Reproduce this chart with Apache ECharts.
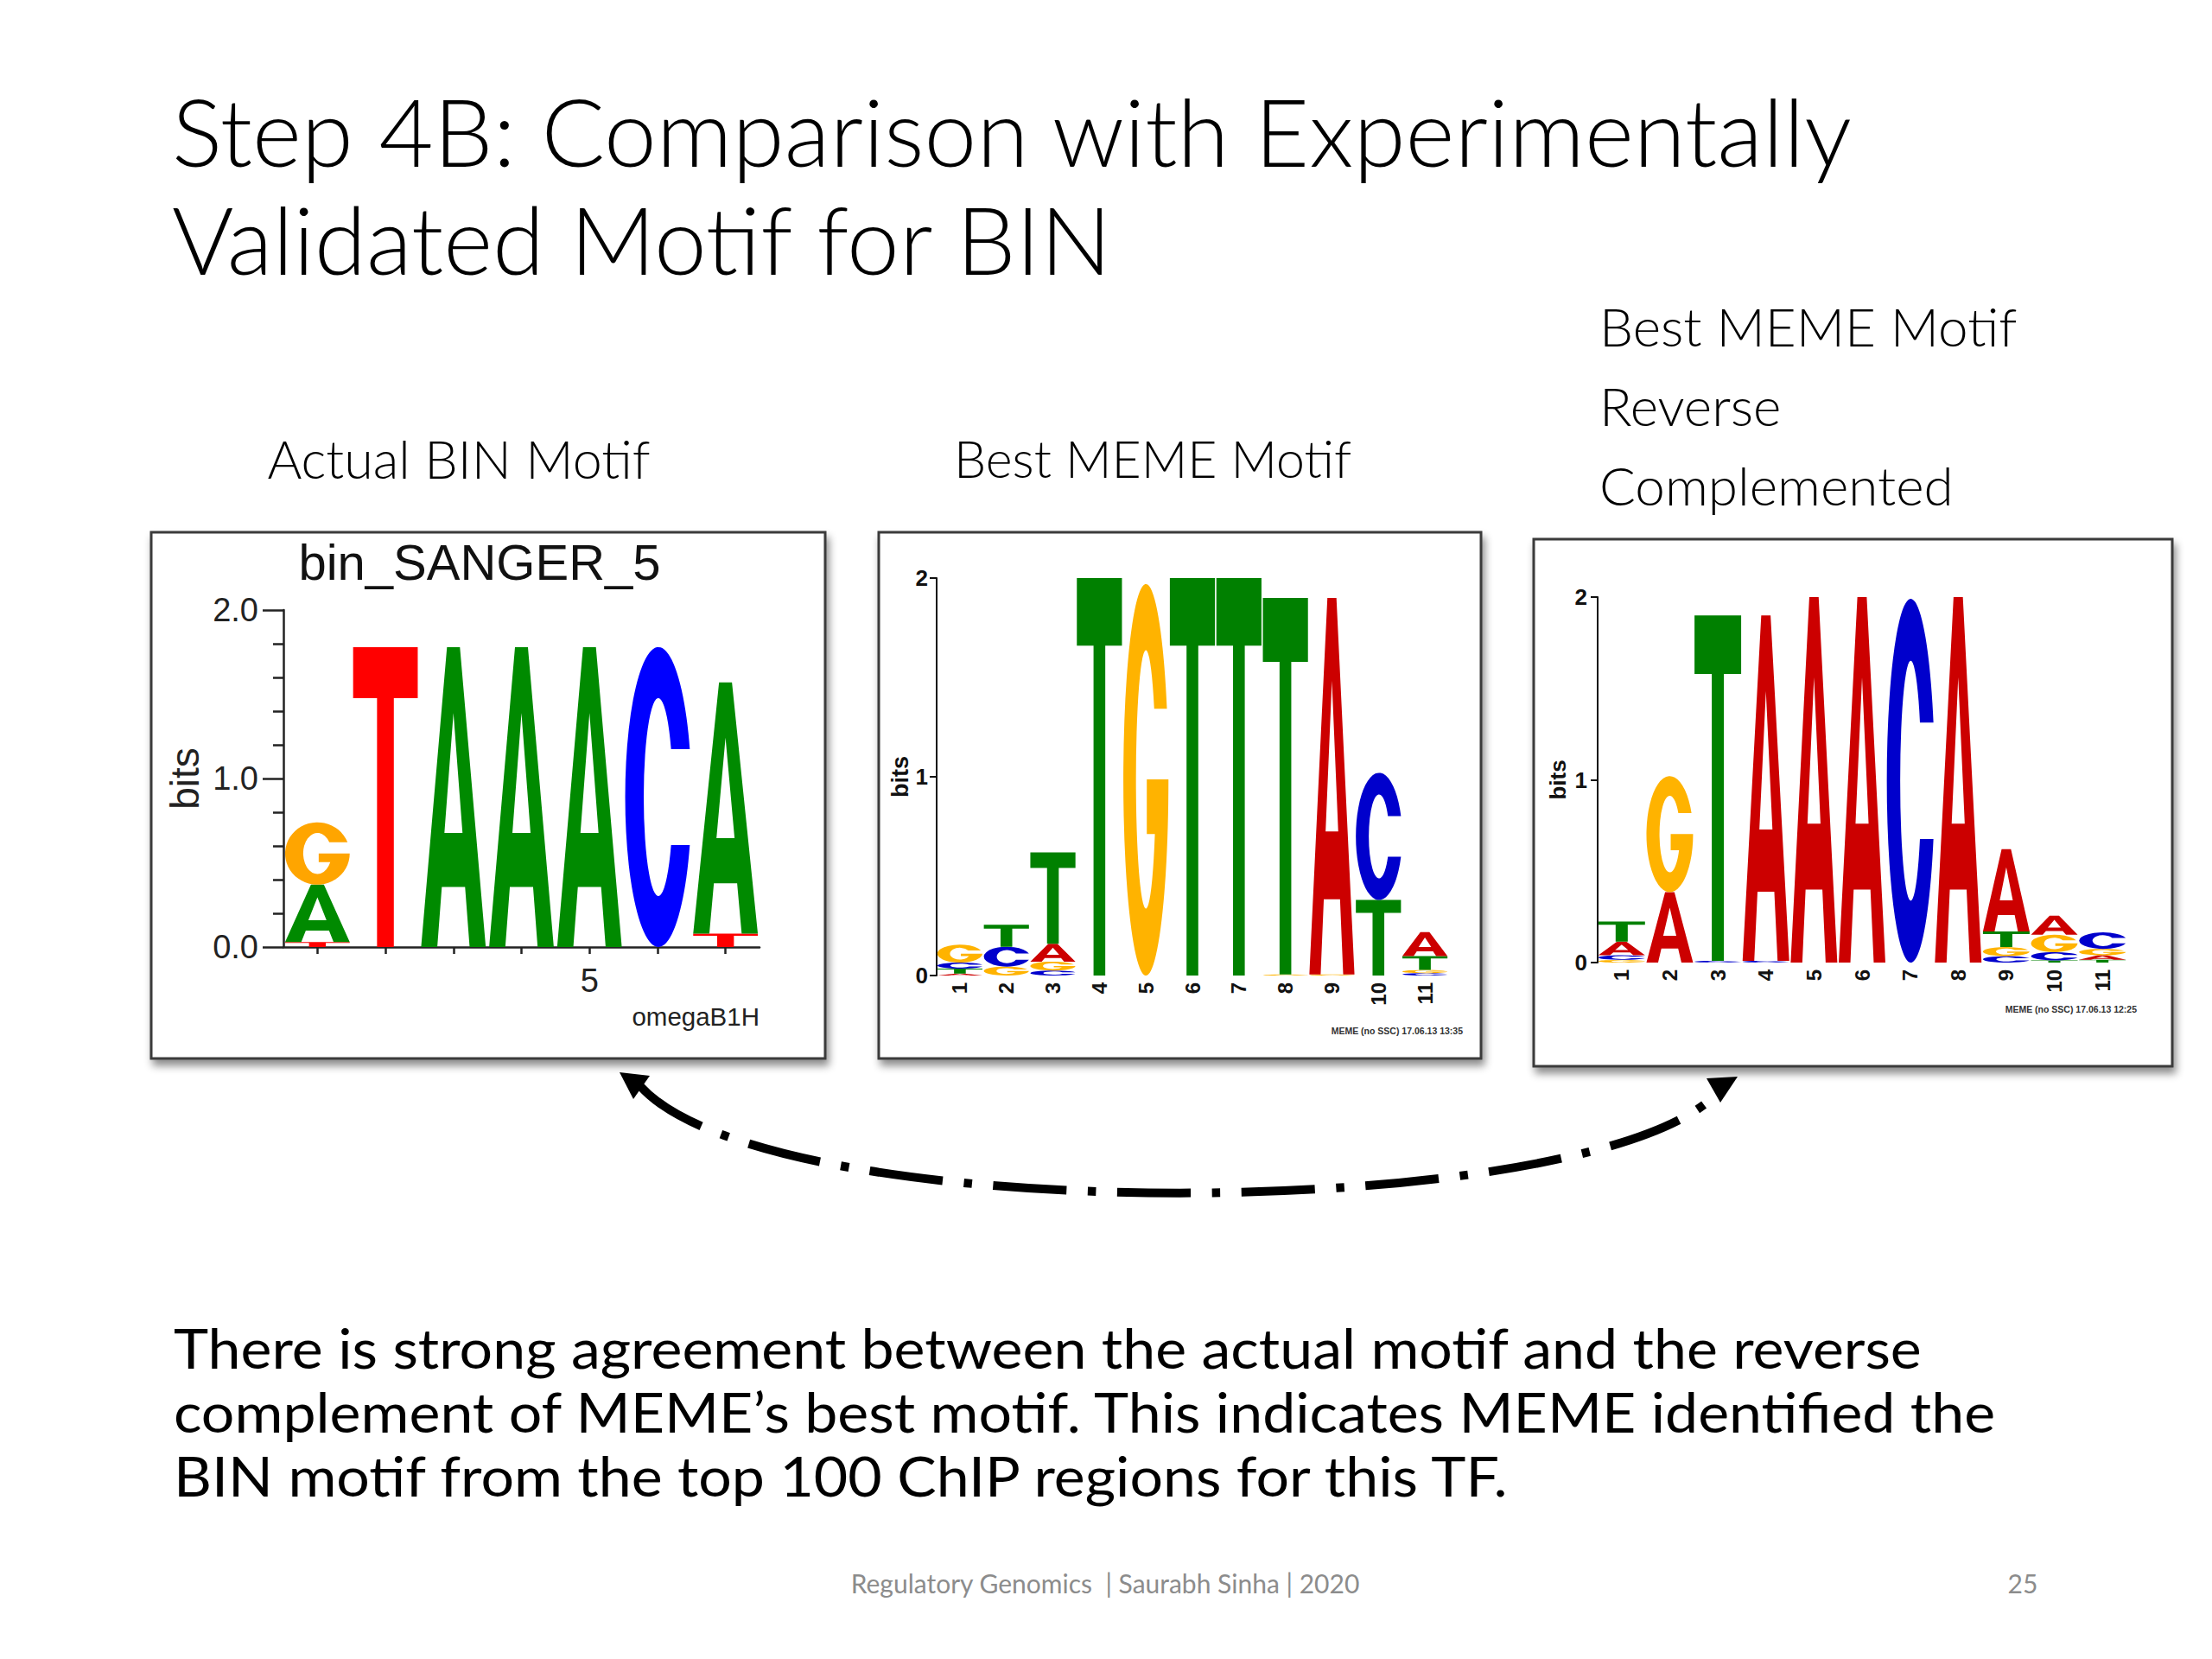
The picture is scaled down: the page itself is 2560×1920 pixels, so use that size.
<!DOCTYPE html>
<html><head><meta charset="utf-8">
<script src="https://cdn.jsdelivr.net/npm/echarts@6/dist/echarts.min.js"></script>
<style>html,body{margin:0;padding:0;background:#fff}#main{width:2560px;height:1920px}</style>
</head><body><div id="main"></div>
<script>
// ---- Logo 1: bin_SANGER_5 (bits per letter at each position) ----
const binPositions = ['1', '2', '3', '4', '5', '6', '7'];
const binA = [0.34, 0, 1.78, 1.78, 1.78, 0, 1.49];
const binC = [0, 0, 0, 0, 0, 1.78, 0];
const binG = [0.37, 0, 0, 0, 0, 0, 0];
const binT = [0.03, 1.78, 0, 0, 0, 0, 0.08];

// ---- Logo 2: Best MEME motif ----
const memePositions = ['1', '2', '3', '4', '5', '6', '7', '8', '9', '10', '11'];
const memeA = [0.01, 0, 0.09, 0, 0, 0, 0, 0, 1.895, 0, 0.12];
const memeC = [0.03, 0.10, 0.025, 0, 0, 0, 0, 0, 0, 0.64, 0.012];
const memeG = [0.09, 0.045, 0.045, 0, 1.97, 0, 0, 0.005, 0.005, 0, 0.016];
const memeT = [0.025, 0.11, 0.46, 2.0, 0, 2.0, 2.0, 1.895, 0, 0.38, 0.07];

// ---- Logo 3: Best MEME motif, reverse complemented ----
const rcPositions = ['1', '2', '3', '4', '5', '6', '7', '8', '9', '10', '11'];
const rcA = [0.075, 0.385, 0, 1.89, 2.0, 2.0, 0, 2.0, 0.45, 0.105, 0.025];
const rcC = [0.025, 0, 0.01, 0.01, 0, 0, 1.99, 0, 0.035, 0.045, 0.09];
const rcG = [0.015, 0.635, 0, 0, 0, 0, 0, 0, 0.05, 0.095, 0.035];
const rcT = [0.11, 0, 1.89, 0, 0, 0, 0, 0, 0.085, 0.012, 0.015];

// ---- Tick labels ----
const binYTicks = [0, 1, 2];
const memeYTicks = [0, 1, 2];

// Letter glyph outlines (unit box 100x100), stretched into each letter's box
const GLYPHS = {
  A: 'M0,100 L40,0 L60,0 L100,100 L75,100 L68,80 L32,80 L25,100 Z M36,62 L64,62 L50,22 Z',
  C: 'M97.4,34 A50,50 0 1 0 97.4,66 L69.2,66 A22,33 0 1 1 69.2,34 Z',
  G: 'M96.6,32 A50,50 0 1 0 100,50 L52,50 L52,64 L69.9,64 A22,33 0 1 1 68.4,32 Z',
  T: 'M0,0 L100,0 L100,17 L63,17 L63,100 L37,100 L37,17 L0,17 Z'
};
const binColors = { A: '#008a00', C: '#0000ff', G: '#ffa500', T: '#ff0000' };
const memeColors = { A: '#cc0000', C: '#0000cc', G: '#ffb300', T: '#008000' };

function logoSeries(idx, A, C, G, T, colors, frac) {
  const data = A.map((_, i) => [i, A[i], C[i], G[i], T[i]]);
  return {
    type: 'custom', xAxisIndex: idx, yAxisIndex: idx, z: 6,
    encode: { x: 0, y: [1, 2, 3, 4] },
    data: data,
    renderItem: function (params, api) {
      const i = api.value(0);
      const letters = ['A', 'C', 'G', 'T']
        .map((L, k) => [L, api.value(k + 1)])
        .filter(d => d[1] > 0)
        .sort((a, b) => a[1] - b[1]);
      const bw = api.size([1, 0])[0] * frac;
      const cx = api.coord([i, 0])[0];
      let base = 0;
      const children = [];
      letters.forEach(([L, h]) => {
        const yTop = api.coord([i, base + h])[1];
        const yBot = api.coord([i, base])[1];
        children.push({
          type: 'path',
          shape: { pathData: GLYPHS[L], x: cx - bw / 2, y: yTop, width: bw, height: Math.max(yBot - yTop, 0.8), layout: 'cover' },
          style: { fill: colors[L] }
        });
        base += h;
      });
      return { type: 'group', children: children };
    }
  };
}

const chart = echarts.init(document.getElementById('main'), null, { renderer: 'svg', width: 2560, height: 1920 });

const helv = 'Liberation Sans, Arial, Helvetica, sans-serif';
const slideFont = 'Lato, Open Sans, sans-serif';

function txt(text, x, y, size, opts) {
  opts = opts || {};
  const style = {
    text: text, fontFamily: opts.family || slideFont, fontSize: size,
    fontWeight: opts.weight || 400, fill: opts.color || '#000',
    align: opts.align || 'left', textAlign: opts.align || 'left',
    verticalAlign: 'middle', textVerticalAlign: 'middle'
  };
  return { type: 'text', z: 20, x: x, y: y, scaleX: opts.scaleX || 1, rotation: opts.rotation || 0, style: style };
}

function box(x, y, w, h) {
  return {
    type: 'rect', z: 1, shape: { x: x, y: y, width: w, height: h },
    style: { fill: '#fff', stroke: '#3a3a3a', lineWidth: 3, shadowBlur: 10, shadowOffsetX: 3, shadowOffsetY: 7, shadowColor: 'rgba(0,0,0,0.45)' }
  };
}

// dashed connector: dash-dot pattern fitted so the curve holds a whole number of periods
const arc = { x1: 741, y1: 1257, cpx1: 895, cpy1: 1427, cpx2: 1860, cpy2: 1415, x2: 1990, y2: 1262 };
function bezLen(s) {
  let L = 0, px = s.x1, py = s.y1;
  for (let k = 1; k <= 400; k++) {
    const t = k / 400, u = 1 - t;
    const x = u * u * u * s.x1 + 3 * u * u * t * s.cpx1 + 3 * u * t * t * s.cpx2 + t * t * t * s.x2;
    const y = u * u * u * s.y1 + 3 * u * u * t * s.cpy1 + 3 * u * t * t * s.cpy2 + t * t * t * s.y2;
    L += Math.hypot(x - px, y - py); px = x; py = y;
  }
  return L;
}
const basePattern = [90, 26, 10, 26];
const period = basePattern.reduce((a, b) => a + b, 0);
const arcLen = bezLen(arc);
const fitScale = arcLen / (Math.round(arcLen / period) * period);
const dashPattern = basePattern.map(v => v * fitScale);

const bodyLines = [
  'There is strong agreement between the actual motif and the reverse',
  'complement of MEME\u2019s best motif. This indicates MEME identified the',
  'BIN motif from the top 100 ChIP regions for this TF.'
];
const bodyY = [1559, 1633, 1707];

const option = {
  animation: false,
  backgroundColor: '#ffffff',
  grid: [
    { left: 328, top: 706, width: 551, height: 390 },
    { left: 1084, top: 669, width: 592, height: 460 },
    { left: 1849, top: 691, width: 612, height: 423 }
  ],
  xAxis: [
    {
      gridIndex: 0, type: 'category', data: binPositions, boundaryGap: true, z: 5,
      axisLine: { show: true, lineStyle: { color: '#222', width: 2.5 } },
      axisTick: { show: true, alignWithLabel: true, interval: 0, length: 8, lineStyle: { color: '#222', width: 2.5 } },
      axisLabel: { interval: (i, v) => v === '5', margin: 20, fontSize: 38, color: '#222', fontFamily: helv }
    },
    {
      gridIndex: 1, type: 'category', data: memePositions, boundaryGap: true, z: 5,
      axisLine: { show: false }, axisTick: { show: false },
      axisLabel: { interval: 0, rotate: 90, margin: 8, fontSize: 24, fontWeight: 'bold', color: '#111', fontFamily: helv }
    },
    {
      gridIndex: 2, type: 'category', data: rcPositions, boundaryGap: true, z: 5,
      axisLine: { show: false }, axisTick: { show: false },
      axisLabel: { interval: 0, rotate: 90, margin: 8, fontSize: 24, fontWeight: 'bold', color: '#111', fontFamily: helv }
    }
  ],
  yAxis: [
    {
      gridIndex: 0, type: 'value', min: binYTicks[0], max: binYTicks[2], interval: 1, z: 5,
      name: 'bits', nameLocation: 'middle', nameRotate: 90, nameGap: 91,
      nameTextStyle: { fontSize: 46, color: '#222', fontFamily: helv },
      axisLine: { show: true, lineStyle: { color: '#222', width: 2.5 } },
      axisTick: { show: true, length: 24, lineStyle: { color: '#222', width: 2.5 } },
      minorTick: { show: true, splitNumber: 5, length: 12, lineStyle: { color: '#222', width: 2.5 } },
      splitLine: { show: false }, minorSplitLine: { show: false },
      axisLabel: { formatter: v => v.toFixed(1), margin: 29, fontSize: 38, color: '#222', fontFamily: helv }
    },
    {
      gridIndex: 1, type: 'value', min: memeYTicks[0], max: memeYTicks[2], interval: 1, z: 5,
      name: 'bits', nameLocation: 'middle', nameRotate: 90, nameGap: 28,
      nameTextStyle: { fontSize: 27, fontWeight: 'bold', color: '#111', fontFamily: helv },
      axisLine: { show: true, lineStyle: { color: '#111', width: 2 } },
      axisTick: { show: true, length: 8, lineStyle: { color: '#111', width: 2 } },
      splitLine: { show: false },
      axisLabel: { margin: 10, fontSize: 26, fontWeight: 'bold', color: '#111', fontFamily: helv }
    },
    {
      gridIndex: 2, type: 'value', min: memeYTicks[0], max: memeYTicks[2], interval: 1, z: 5,
      name: 'bits', nameLocation: 'middle', nameRotate: 90, nameGap: 33,
      nameTextStyle: { fontSize: 26, fontWeight: 'bold', color: '#111', fontFamily: helv },
      axisLine: { show: true, lineStyle: { color: '#111', width: 2 } },
      axisTick: { show: true, length: 8, lineStyle: { color: '#111', width: 2 } },
      splitLine: { show: false },
      axisLabel: { margin: 12, fontSize: 26, fontWeight: 'bold', color: '#111', fontFamily: helv }
    }
  ],
  series: [
    logoSeries(0, binA, binC, binG, binT, binColors, 0.95),
    logoSeries(1, memeA, memeC, memeG, memeT, memeColors, 0.97),
    logoSeries(2, rcA, rcC, rcG, rcT, memeColors, 0.97)
  ],
  graphic: [
    box(175, 616, 780, 609),
    box(1017, 616, 697, 609),
    box(1775, 624, 739, 610),
    txt('Step 4B: Comparison with Experimentally', 199, 150, 109, { weight: 300 }),
    txt('Validated Motif for BIN', 199, 275, 109, { weight: 300 }),
    txt('Actual BIN Motif', 531, 530, 61, { weight: 300, align: 'center' }),
    txt('Best MEME Motif', 1334, 530, 59, { weight: 300, align: 'center' }),
    txt('Best MEME Motif', 1851, 377, 62, { weight: 300 }),
    txt('Reverse', 1851, 469, 62, { weight: 300 }),
    txt('Complemented', 1851, 561, 62, { weight: 300 }),
    txt('bin_SANGER_5', 555, 650, 58, { family: helv, align: 'center', color: '#111' }),
    txt('omegaB1H', 879, 1176, 29.5, { family: helv, align: 'right', color: '#222' }),
    txt('MEME (no SSC) 17.06.13 13:35', 1693, 1193, 10.5, { family: helv, align: 'right', weight: 'bold', color: '#333' }),
    txt('MEME (no SSC) 17.06.13 12:25', 2473, 1168, 10.5, { family: helv, align: 'right', weight: 'bold', color: '#333' }),
    txt(bodyLines[0], 201, bodyY[0], 64.5, { scaleX: 1.055 }),
    txt(bodyLines[1], 201, bodyY[1], 64.5, { scaleX: 1.055 }),
    txt(bodyLines[2], 201, bodyY[2], 64.5, { scaleX: 1.055 }),
    txt('Regulatory Genomics  | Saurabh Sinha | 2020', 1279, 1832, 30, { align: 'center', color: '#8c8c8c' }),
    txt('25', 2341, 1832, 30, { align: 'center', color: '#8c8c8c' }),
    {
      type: 'bezierCurve', z: 20,
      shape: arc,
      style: { fill: 'none', stroke: '#000', lineWidth: 10, lineDash: dashPattern }
    },
    { type: 'polygon', z: 21, shape: { points: [[717, 1241], [752, 1245], [733, 1272]] }, style: { fill: '#000' } },
    { type: 'polygon', z: 21, shape: { points: [[1975, 1248], [2011, 1246], [1991, 1276]] }, style: { fill: '#000' } }
  ]
};
chart.setOption(option);
</script></body></html>
